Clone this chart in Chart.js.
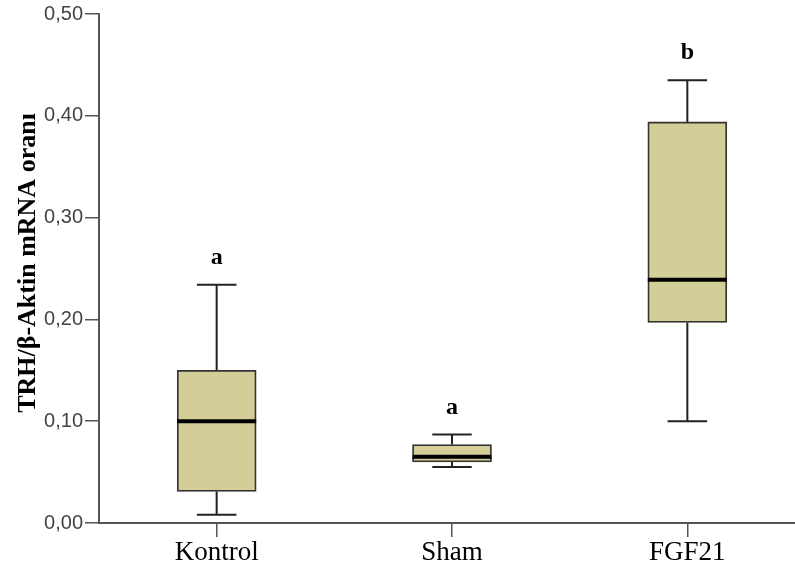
<!DOCTYPE html>
<html>
<head>
<meta charset="utf-8">
<script src="https://cdn.jsdelivr.net/npm/chart.js@4.4.0/dist/chart.umd.min.js"></script>
<style>
  html, body { margin: 0; padding: 0; background: #fff; overflow: hidden; }
  #wrap { width: 805px; height: 569px; }
</style>
</head>
<body>
<div id="wrap"><canvas id="boxChart" width="805" height="569"></canvas></div>
<script>
// Groups and box plot statistics
const groups = ['Kontrol', 'Sham', 'FGF21'];
const whiskerMin = [0.008, 0.055, 0.100];
const q1 = [0.031, 0.060, 0.197];
const median = [0.100, 0.065, 0.239];
const q3 = [0.150, 0.077, 0.394];
const whiskerMax = [0.234, 0.087, 0.435];
const letters = ['a', 'a', 'b'];

const yTicks = [0, 0.1, 0.2, 0.3, 0.4, 0.5];
const yTitle = 'TRH/β-Aktin mRNA oranı';

const ctx = document.getElementById('boxChart').getContext('2d');

// Whiskers, medians, significance letters and axis title
const boxExtras = {
    id: 'boxExtras',
    afterDatasetsDraw(chart) {
        const c = chart.ctx;
        const x = chart.scales.x;
        const y = chart.scales.y;
        const meta = chart.getDatasetMeta(0);

        c.save();
        groups.forEach((g, i) => {
            const cx = x.getPixelForValue(i);
            const boxW = meta.data[i].width;

            // whisker stems
            c.strokeStyle = '#222';
            c.lineWidth = 2;
            c.beginPath();
            c.moveTo(cx, y.getPixelForValue(whiskerMax[i]));
            c.lineTo(cx, y.getPixelForValue(q3[i]));
            c.moveTo(cx, y.getPixelForValue(q1[i]));
            c.lineTo(cx, y.getPixelForValue(whiskerMin[i]));
            // caps
            const capHalf = boxW / 4;
            c.moveTo(cx - capHalf, y.getPixelForValue(whiskerMax[i]));
            c.lineTo(cx + capHalf, y.getPixelForValue(whiskerMax[i]));
            c.moveTo(cx - capHalf, y.getPixelForValue(whiskerMin[i]));
            c.lineTo(cx + capHalf, y.getPixelForValue(whiskerMin[i]));
            c.stroke();

            // median
            c.strokeStyle = '#000';
            c.lineWidth = 4;
            c.beginPath();
            c.moveTo(cx - boxW / 2, y.getPixelForValue(median[i]));
            c.lineTo(cx + boxW / 2, y.getPixelForValue(median[i]));
            c.stroke();

            // letter above the upper whisker
            c.fillStyle = '#000';
            c.font = 'bold 24px "Liberation Serif"';
            c.textAlign = 'center';
            c.textBaseline = 'middle';
            c.fillText(letters[i], cx, y.getPixelForValue(whiskerMax[i]) - 27);
        });

        // y axis title
        c.translate(28, 263);
        c.rotate(-Math.PI / 2);
        c.fillStyle = '#000';
        c.font = 'bold 26px "Liberation Serif"';
        c.textAlign = 'center';
        c.textBaseline = 'middle';
        c.fillText(yTitle, 0, 0);
        c.restore();
    }
};

new Chart(ctx, {
    type: 'bar',
    data: {
        labels: groups,
        datasets: [{
            label: 'IQR',
            data: groups.map((g, i) => [q1[i], q3[i]]),
            backgroundColor: '#d3cd98',
            borderColor: '#333',
            borderWidth: 1.8,
            borderSkipped: false,
            barThickness: 79
        }]
    },
    options: {
        responsive: false,
        animation: false,
        layout: { padding: { top: 14, left: 0, right: 0, bottom: 0 } },
        scales: {
            x: {
                grid: {
                    offset: false,
                    drawOnChartArea: false,
                    drawTicks: true,
                    tickLength: 14,
                    color: '#555',
                    lineWidth: 1.5
                },
                border: { color: '#555', width: 2 },
                ticks: {
                    color: '#000',
                    padding: 0,
                    font: { family: '"Liberation Serif"', size: 27 }
                },
                afterFit: (scale) => { scale.height = 46; }
            },
            y: {
                min: 0,
                max: 0.5,
                afterBuildTicks: (scale) => { scale.ticks = yTicks.map(v => ({ value: v })); },
                grid: {
                    drawOnChartArea: false,
                    drawTicks: true,
                    tickLength: 14,
                    color: '#555',
                    lineWidth: 1.5
                },
                border: { color: '#555', width: 2 },
                ticks: {
                    color: '#444',
                    padding: 2,
                    font: { family: '"Liberation Sans"', size: 20 },
                    callback: (v) => v.toFixed(2).replace('.', ',')
                },
                afterFit: (scale) => { scale.width = 99; }
            }
        },
        plugins: {
            legend: { display: false },
            tooltip: { enabled: false }
        }
    },
    plugins: [boxExtras]
});
</script>
</body>
</html>
